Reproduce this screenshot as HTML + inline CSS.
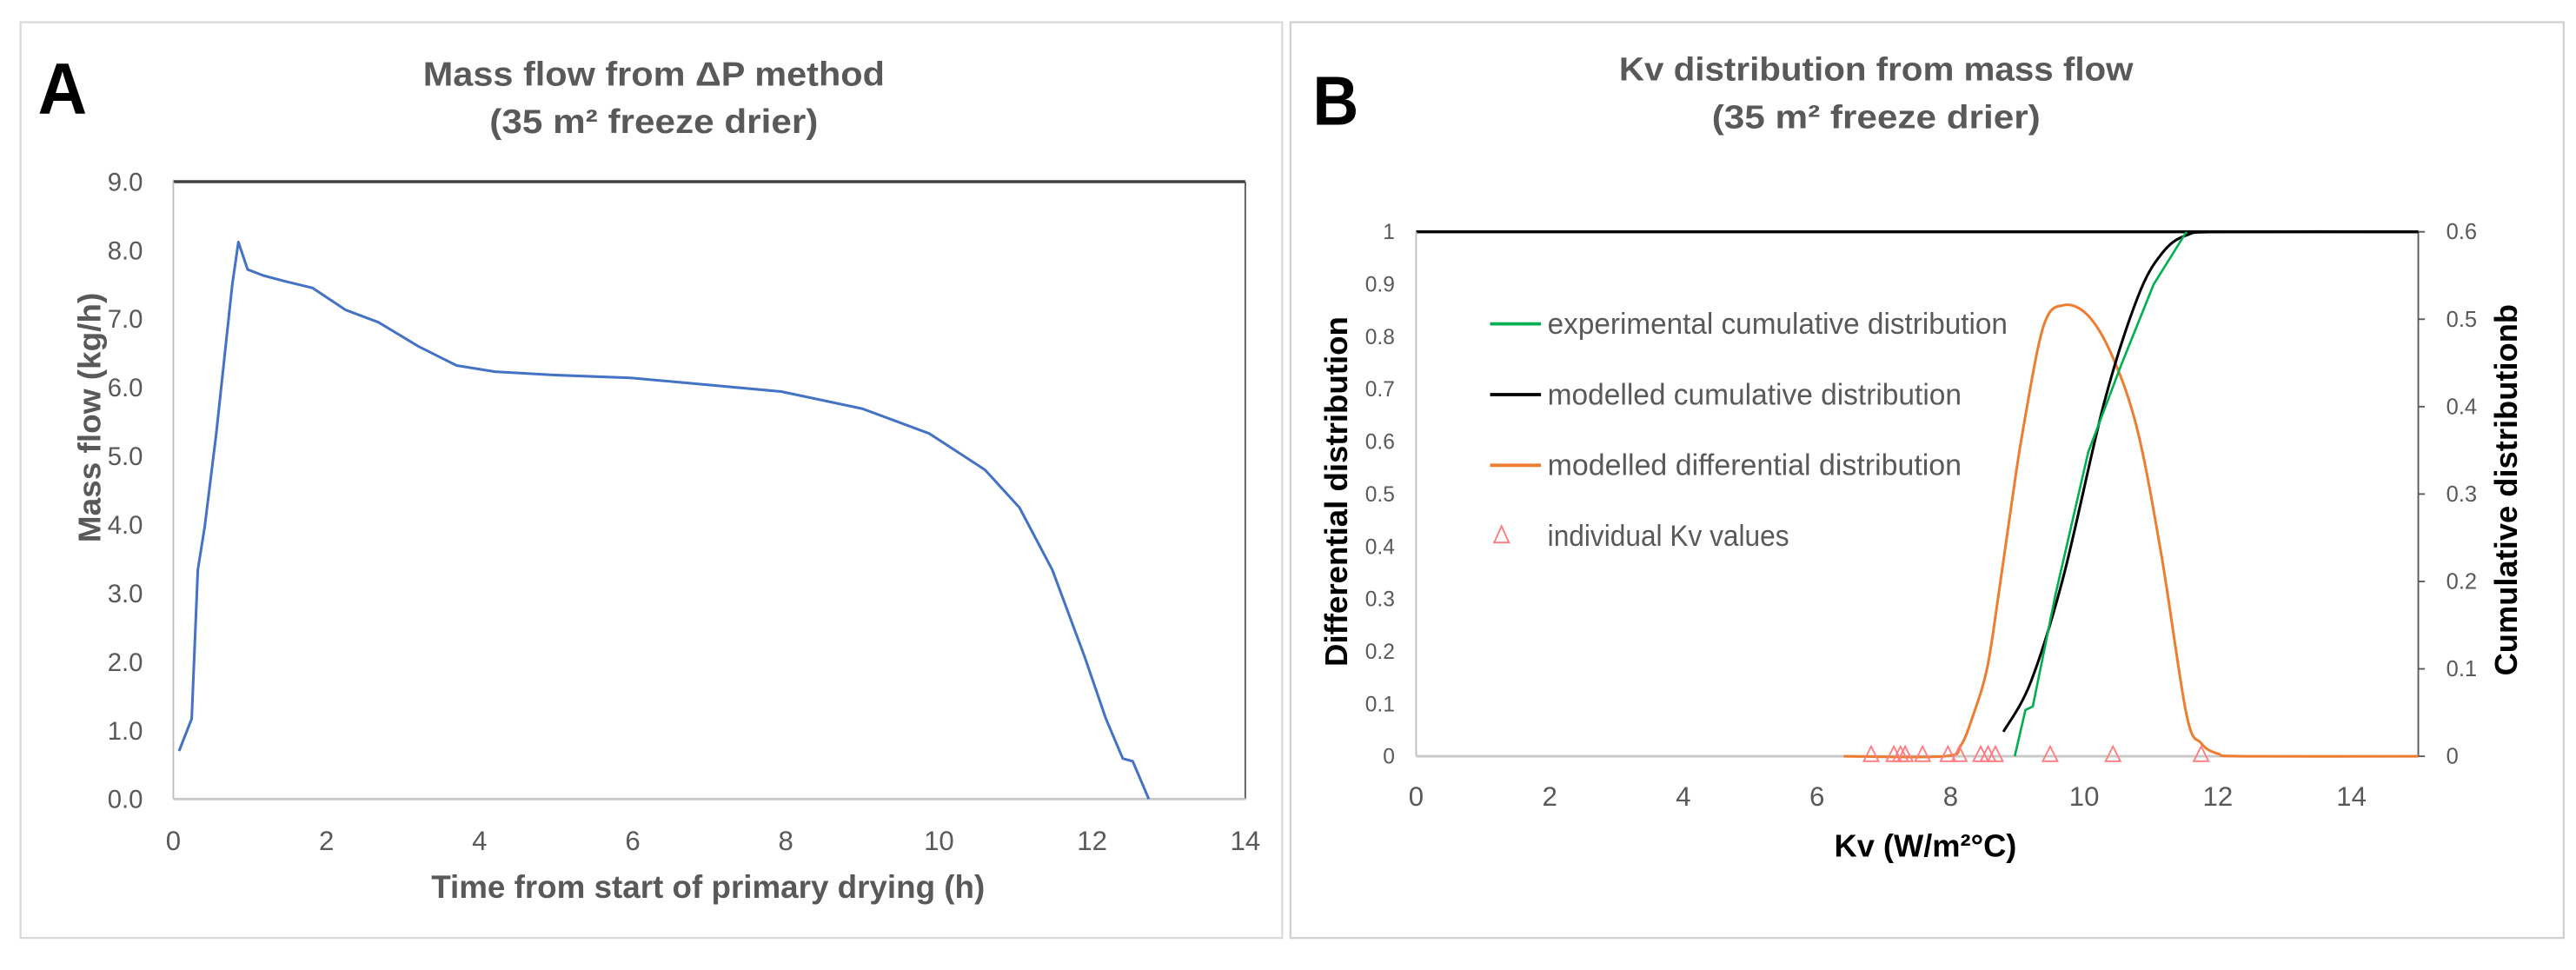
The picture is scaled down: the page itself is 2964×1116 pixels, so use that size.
<!DOCTYPE html>
<html><head><meta charset="utf-8"><style>
html,body{margin:0;padding:0;background:#fff;}
svg{display:block;}
text{font-family:"Liberation Sans",sans-serif;}
</style></head><body>
<svg id="fig" width="2964" height="1116" viewBox="0 0 1568 590" preserveAspectRatio="none" xmlns="http://www.w3.org/2000/svg">
<rect x="12.5" y="13.5" width="768" height="557" fill="none" stroke="#d9d9d9" stroke-width="1.2"/>
<rect x="785.5" y="13.5" width="775" height="557" fill="none" stroke="#d0d0d0" stroke-width="1.2"/>
<g id="gA"></g>
<g id="gB"></g>
</svg>
<script>
// ---- Panel A data ----
const timeH = [0.075,0.24,0.32,0.41,0.56,0.77,0.85,0.97,1.18,1.45,1.82,2.25,2.68,3.2,3.7,4.2,5.0,5.97,6.87,7.94,9.0,9.87,10.6,11.05,11.48,11.9,12.18,12.4,12.53,12.74];
const massFlow = [0.70,1.17,3.34,3.97,5.32,7.5,8.12,7.72,7.63,7.55,7.45,7.13,6.95,6.6,6.32,6.23,6.18,6.14,6.05,5.94,5.69,5.33,4.8,4.25,3.34,2.08,1.17,0.59,0.55,0.0];
const aXTicks = [0,2,4,6,8,10,12,14];
const aYTicks = ["0.0","1.0","2.0","3.0","4.0","5.0","6.0","7.0","8.0","9.0"];
// ---- Panel B data ----
const diffKv = [6.4,7.9,8.15,8.35,8.55,8.72,8.9,9.08,9.39,9.69,10.06,10.43,10.8,11.16,11.53,11.75,12.0,12.4,15];
const diffVal = [0,0,0.02,0.083,0.17,0.31,0.47,0.62,0.82,0.86,0.84,0.76,0.62,0.38,0.08,0.025,0.005,0,0];
const modKv = [8.79,9.2,9.69,10.3,10.8,11.16,11.53,12.1,15];
const modCum = [0.028,0.085,0.206,0.405,0.525,0.575,0.596,0.6,0.6];
const expKv = [8.96,9.12,9.23,9.57,10.06,10.55,11.04,11.53];
const expCum = [0,0.053,0.057,0.185,0.348,0.447,0.54,0.6];
const indivKv = [6.81,7.15,7.25,7.32,7.58,7.96,8.13,8.45,8.56,8.67,9.49,10.43,11.75];
const bXTicks = [0,2,4,6,8,10,12,14];
const bYLeftTicks = ["0","0.1","0.2","0.3","0.4","0.5","0.6","0.7","0.8","0.9","1"];
const bYRightTicks = ["0","0.1","0.2","0.3","0.4","0.5","0.6"];

const NS="http://www.w3.org/2000/svg";
function mk(parent,tag,attrs,txt){const e=document.createElementNS(NS,tag);for(const k in attrs)e.setAttribute(k,attrs[k]);if(txt!==undefined)e.textContent=txt;parent.appendChild(e);return e;}
function smooth(pts){let d='M'+pts[0][0]+','+pts[0][1];
for(let i=0;i<pts.length-1;i++){const p0=pts[Math.max(0,i-1)],p1=pts[i],p2=pts[i+1],p3=pts[Math.min(pts.length-1,i+2)];
const c1=[p1[0]+(p2[0]-p0[0])/6,p1[1]+(p2[1]-p0[1])/6],c2=[p2[0]-(p3[0]-p1[0])/6,p2[1]-(p3[1]-p1[1])/6];
d+=` C${c1[0]},${c1[1]} ${c2[0]},${c2[1]} ${p2[0]},${p2[1]}`;}return d;}

// ===== Panel A =====
const gA=document.getElementById('gA');
const ax=v=>105.5+v*(758-105.5)/14, ay=v=>486-v*(486-110.5)/9;
let t;
t=mk(gA,'text',{x:23,y:69,'font-size':44,'font-weight':'bold',fill:'#000',textLength:30,lengthAdjust:'spacingAndGlyphs'},'A');

t=mk(gA,'text',{x:398,y:52,'font-size':20.5,'font-weight':'bold',fill:'#595959','text-anchor':'middle',textLength:281,lengthAdjust:'spacingAndGlyphs'},'Mass flow from ΔP method');

t=mk(gA,'text',{x:398,y:81,'font-size':20.5,'font-weight':'bold',fill:'#595959','text-anchor':'middle',textLength:200,lengthAdjust:'spacingAndGlyphs'},'(35 m² freeze drier)');

let l=mk(gA,'line',{x1:ax(0),y1:ay(9),x2:ax(14),y2:ay(9),stroke:'#404040','stroke-width':1.8});

l=mk(gA,'line',{x1:ax(0),y1:ay(9),x2:ax(0),y2:ay(0),stroke:'#bfbfbf','stroke-width':1});

l=mk(gA,'line',{x1:ax(14),y1:ay(9),x2:ax(14),y2:ay(0),stroke:'#595959','stroke-width':1});

l=mk(gA,'line',{x1:ax(0),y1:ay(0),x2:ax(14),y2:ay(0),stroke:'#c8c8c8','stroke-width':1.5});

aYTicks.forEach((s,i)=>{const e=mk(gA,'text',{x:87,y:ay(i)+5.5,'font-size':15.5,fill:'#595959','text-anchor':'end'},s);
});
aXTicks.forEach(v=>{const e=mk(gA,'text',{x:ax(v),y:517,'font-size':16.5,fill:'#595959','text-anchor':'middle'},String(v));
});
t=mk(gA,'text',{x:431,y:546,'font-size':19.5,'font-weight':'bold',fill:'#595959','text-anchor':'middle',textLength:337,lengthAdjust:'spacingAndGlyphs'},'Time  from start of primary drying (h)');

t=mk(gA,'text',{x:0,y:0,'font-size':19,'font-weight':'bold',fill:'#595959','text-anchor':'middle',textLength:152,lengthAdjust:'spacingAndGlyphs',transform:'translate(61,254) rotate(-90)'},'Mass flow (kg/h)');

const pA=mk(gA,'polyline',{points:timeH.map((v,i)=>ax(v)+','+ay(massFlow[i])).join(' '),fill:'none',stroke:'#4472c4','stroke-width':1.6,'stroke-linejoin':'round'});


// ===== Panel B =====
const gB=document.getElementById('gB');
const bx=v=>862+v*(1472-862)/15, byl=v=>460-v*(460-141), byr=v=>460-v/0.6*(460-141);
t=mk(gB,'text',{x:799,y:76,'font-size':42,'font-weight':'bold',fill:'#000',textLength:28,lengthAdjust:'spacingAndGlyphs'},'B');

t=mk(gB,'text',{x:1142,y:49,'font-size':20,'font-weight':'bold',fill:'#595959','text-anchor':'middle',textLength:313,lengthAdjust:'spacingAndGlyphs'},'Kv distribution from mass flow');

t=mk(gB,'text',{x:1142,y:78,'font-size':20,'font-weight':'bold',fill:'#595959','text-anchor':'middle',textLength:200,lengthAdjust:'spacingAndGlyphs'},'(35 m² freeze drier)');

l=mk(gB,'line',{x1:bx(0),y1:byl(1),x2:bx(15),y2:byl(1),stroke:'#000','stroke-width':1.8});

l=mk(gB,'line',{x1:bx(0),y1:byl(1),x2:bx(0),y2:byl(0),stroke:'#bfbfbf','stroke-width':1});

l=mk(gB,'line',{x1:bx(15),y1:byl(1),x2:bx(15),y2:byl(0),stroke:'#595959','stroke-width':1});

l=mk(gB,'line',{x1:bx(0),y1:byl(0),x2:bx(15),y2:byl(0),stroke:'#c8c8c8','stroke-width':1.5});

bYLeftTicks.forEach((s,i)=>{const e=mk(gB,'text',{x:849,y:byl(i/10)+4.5,'font-size':13,fill:'#595959','text-anchor':'end'},s);
});
bYRightTicks.forEach((s,i)=>{const e=mk(gB,'text',{x:1489,y:byr(i/10)+4.5,'font-size':13.5,fill:'#595959'},s);

const tk=mk(gB,'line',{x1:bx(15),y1:byr(i/10),x2:bx(15)+4,y2:byr(i/10),stroke:'#595959','stroke-width':1});
});
bXTicks.forEach(v=>{const e=mk(gB,'text',{x:bx(v),y:490,'font-size':16.5,fill:'#595959','text-anchor':'middle'},String(v));
});
t=mk(gB,'text',{x:1172,y:521,'font-size':19,'font-weight':'bold',fill:'#000','text-anchor':'middle',textLength:111,lengthAdjust:'spacingAndGlyphs'},'Kv (W/m²°C)');

t=mk(gB,'text',{x:0,y:0,'font-size':19,'font-weight':'bold',fill:'#000','text-anchor':'middle',textLength:213,lengthAdjust:'spacingAndGlyphs',transform:'translate(820,299) rotate(-90)'},'Differential distribution');

t=mk(gB,'text',{x:0,y:0,'font-size':19,'font-weight':'bold',fill:'#000','text-anchor':'middle',textLength:226,lengthAdjust:'spacingAndGlyphs',transform:'translate(1532,298) rotate(-90)'},'Cumulative distributionb');

let p=mk(gB,'path',{d:smooth(diffKv.map((v,i)=>[bx(v),byl(diffVal[i])])),fill:'none',stroke:'#ed7d31','stroke-width':1.6});

p=mk(gB,'path',{d:smooth(modKv.map((v,i)=>[bx(v),byr(modCum[i])])),fill:'none',stroke:'#000','stroke-width':1.6});

p=mk(gB,'polyline',{points:expKv.map((v,i)=>bx(v)+','+byr(expCum[i])).join(' '),fill:'none',stroke:'#00b050','stroke-width':1.4,'stroke-linejoin':'round'});

indivKv.forEach(v=>{const x=bx(v),y=byl(0);const m=mk(gB,'polygon',{points:`${x},${y-6} ${x-4.5},${y+3} ${x+4.5},${y+3}`,fill:'none',stroke:'#ff7c80','stroke-width':1});
});
// legend
const leg=[['experimental cumulative distribution','#00b050','line',280],['modelled cumulative distribution','#000','line',252],['modelled differential distribution','#ed7d31','line',252],['individual Kv values','#ff7c80','tri',147]];
leg.forEach((e,i)=>{const y=197+i*43;
if(e[2]==='line'){const ln=mk(gB,'line',{x1:907,y1:y,x2:938,y2:y,stroke:e[1],'stroke-width':2});
}
else{const tr=mk(gB,'polygon',{points:`914,${y-6} 909.5,${y+4} 918.5,${y+4}`,fill:'none',stroke:e[1],'stroke-width':1});
}
const tx=mk(gB,'text',{x:942,y:y+6,'font-size':18,fill:'#595959',textLength:e[3],lengthAdjust:'spacingAndGlyphs'},e[0]);
});
</script>
</body></html>
